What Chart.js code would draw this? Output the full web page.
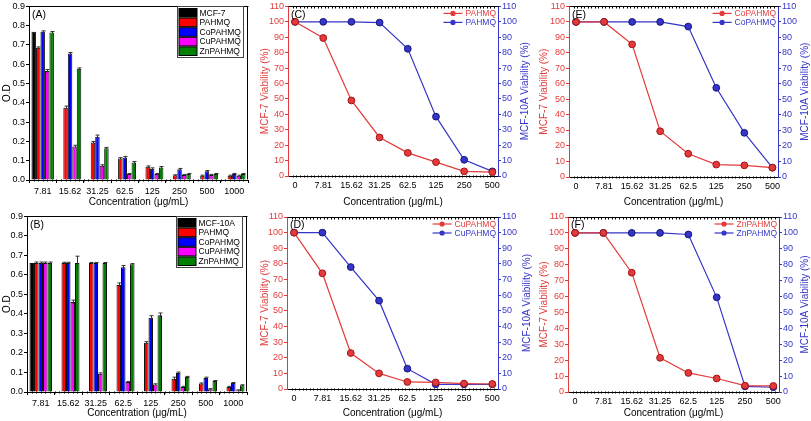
<!DOCTYPE html>
<html>
<head>
<meta charset="utf-8">
<script src="https://cdn.jsdelivr.net/npm/chart.js@4.4.0/dist/chart.umd.min.js"></script>
<style>
  body { margin: 0; background: #fff; width: 811px; height: 421px; position: relative; overflow: hidden; }
  .p { position: absolute; }
</style>
</head>
<body>
<div class="p" style="left:0;top:0;width:258px;height:210px"><canvas id="cA"></canvas></div>
<div class="p" style="left:258px;top:0;width:279px;height:210px"><canvas id="cC"></canvas></div>
<div class="p" style="left:537px;top:0;width:274px;height:210px"><canvas id="cE"></canvas></div>
<div class="p" style="left:0;top:210px;width:258px;height:211px"><canvas id="cB"></canvas></div>
<div class="p" style="left:258px;top:210px;width:279px;height:211px"><canvas id="cD"></canvas></div>
<div class="p" style="left:537px;top:210px;width:274px;height:211px"><canvas id="cF"></canvas></div>
<script>
// bar panels: O.D values per concentration
const barLabels = ['7.81', '15.62', '31.25', '62.5', '125', '250', '500', '1000'];

const odMCF7     = [0.768, null, null, null, null, null, null, null];
const odA_PAHMQ  = [0.685, 0.375, 0.195, 0.112, 0.069, 0.024, 0.022, 0.022];
const odA_Co     = [0.768, 0.656, 0.224, 0.117, 0.058, 0.056, 0.045, 0.031];
const odA_Cu     = [0.565, 0.174, 0.074, 0.031, 0.031, 0.026, 0.026, 0.022];
const odA_Zn     = [0.765, 0.577, 0.165, 0.091, 0.065, 0.031, 0.031, 0.031];
const errA_PAHMQ = [0.005, 0.008, 0.005, 0.004, 0.004, 0.003, 0.003, 0.003];
const errA_Co    = [0.005, 0.005, 0.009, 0.005, 0.005, 0.004, 0.004, 0.003];
const errA_Cu    = [0.008, 0.006, 0.005, 0.003, 0.003, 0.003, 0.003, 0.003];
const errA_Zn    = [0.005, 0.004, 0.004, 0.005, 0.005, 0.003, 0.003, 0.003];

const odMCF10A   = [0.661, null, null, null, null, null, null, null];
const odB_PAHMQ  = [0.661, 0.661, 0.661, 0.549, 0.253, 0.068, 0.043, 0.026];
const odB_Co     = [0.661, 0.661, 0.661, 0.640, 0.381, 0.097, 0.072, 0.046];
const odB_Cu     = [0.661, 0.461, 0.094, 0.051, 0.039, 0.026, 0.014, 0.009];
const odB_Zn     = [0.661, 0.661, 0.661, 0.655, 0.393, 0.077, 0.056, 0.034];
const errB_PAHMQ = [0.005, 0.004, 0.003, 0.010, 0.005, 0.008, 0.003, 0.003];
const errB_Co    = [0.005, 0.004, 0.003, 0.008, 0.010, 0.005, 0.004, 0.003];
const errB_Cu    = [0.005, 0.010, 0.004, 0.003, 0.003, 0.003, 0.003, 0.002];
const errB_Zn    = [0.005, 0.035, 0.003, 0.003, 0.012, 0.003, 0.003, 0.003];

// line panels: viability (%) per concentration
const concLabels = ['0', '7.81', '15.62', '31.25', '62.5', '125', '250', '500'];
const mcf7_PAHMQ    = [100, 89.5, 49, 25, 15, 9, 3, 2.5];
const mcf10a_PAHMQ  = [100, 100, 100, 99.5, 82.5, 38.5, 10.5, 3];
const mcf7_Co       = [100, 100, 85.5, 29.5, 15, 8, 7.5, 6];
const mcf10a_Co     = [100, 100, 100, 100, 97, 57.5, 28.5, 6];
const mcf7_Cu       = [100, 74, 23, 10, 4.5, 4.2, 3.5, 3.2];
const mcf10a_Cu     = [100, 100, 78, 56.5, 13, 3, 3, 3];
const mcf7_Zn       = [100, 100, 75, 21.5, 12, 8.5, 4, 3.8];
const mcf10a_Zn     = [100, 100, 100, 100, 99, 59.5, 3.5, 3];

const RED = '#e33b3b';
const BLUE = '#3535c8';
const FONT = "'Liberation Sans', Arial, sans-serif";
const TICK = 9;
const TITLE = 10;

Chart.defaults.font.family = FONT;
Chart.defaults.color = '#000';
Chart.defaults.animation = false;

function seg(ctx, x1, y1, x2, y2) {
  ctx.beginPath(); ctx.moveTo(x1, y1); ctx.lineTo(x2, y2); ctx.stroke();
}

// frame, panel letter, legend, error bars, right axis title
const deco = {
  id: 'deco',
  afterDatasetsDraw(chart, args, o) {
    if (o.kind !== 'bar') return;
    const ctx = chart.ctx, ys = chart.scales.y;
    ctx.save();
    ctx.strokeStyle = '#333'; ctx.lineWidth = 1;
    chart.data.datasets.forEach((ds, i) => {
      if (!ds.err) return;
      chart.getDatasetMeta(i).data.forEach((bar, j) => {
        const v = ds.data[j];
        if (v == null) return;
        const x = Math.round(bar.x) + 0.5;
        const yt = ys.getPixelForValue(v + ds.err[j]);
        const yb = ys.getPixelForValue(v - ds.err[j]);
        seg(ctx, x, yt, x, yb);
        seg(ctx, x - 2, yt, x + 2, yt);
      });
    });
    ctx.restore();
  },
  afterDraw(chart, args, o) {
    const ctx = chart.ctx, a = chart.chartArea;
    const L = Math.round(a.left) + 0.5, R = Math.round(a.right) - 0.5;
    const T = Math.round(a.top) + 0.5, B = Math.round(a.bottom) - 0.5;
    ctx.save();
    ctx.strokeStyle = '#000'; ctx.lineWidth = 1;
    seg(ctx, L, T, R + 1, T);
    if (o.kind === 'bar') seg(ctx, R, T, R, B);
    // minor ticks
    const xs = chart.scales.x;
    if (o.kind === 'line') {
      for (let v = -0.2; v <= 7.2; v += 0.125) {
        const x = Math.round(xs.getPixelForValue(v)) + 0.5;
        if (x <= L + 1 || x >= R - 1) continue;
        seg(ctx, x, T, x, T + 2);
        seg(ctx, x, B, x, B + 2);
      }
    } else {
      const step = (a.right - a.left) / 8 / 6;
      for (let x = a.left + step; x < a.right - 1; x += step) {
        const px = Math.round(x) + 0.5;
        seg(ctx, px, B, px, B + 2);
      }
    }
    // panel letter
    ctx.fillStyle = '#000';
    ctx.font = '10.5px ' + FONT;
    ctx.textBaseline = 'top';
    ctx.textAlign = 'left';
    ctx.fillText(o.letter, a.left + 3, a.top + 3);

    ctx.font = '8.5px ' + FONT;
    ctx.textBaseline = 'middle';
    const ds = chart.data.datasets;
    if (o.kind === 'bar') {
      let tw = 0;
      ds.forEach(d => { tw = Math.max(tw, ctx.measureText(d.label).width); });
      const rowH = 9.6, w = Math.ceil(tw + 24), h = Math.round(ds.length * rowH + 3);
      const bx = Math.round(a.right - 5 - w) + 0.5, by = T;
      ctx.strokeStyle = '#444';
      ctx.strokeRect(bx, by, w, h);
      ds.forEach((d, i) => {
        const y = by + 2 + i * rowH;
        ctx.fillStyle = d.backgroundColor;
        ctx.fillRect(bx + 1.5, y, 18, rowH - 1);
        ctx.strokeStyle = '#000';
        ctx.strokeRect(bx + 1.5, y, 18, rowH - 1);
        ctx.fillStyle = '#000';
        ctx.fillText(d.label, bx + 22, y + rowH / 2);
      });
    } else {
      ds.forEach((d, i) => {
        const y = a.top + 7 + i * 9;
        const tx = a.right - 2 - ctx.measureText(d.label).width;
        ctx.strokeStyle = d.borderColor; ctx.lineWidth = 1.2;
        seg(ctx, tx - 22, y, tx - 3, y);
        ctx.fillStyle = d.borderColor;
        ctx.beginPath(); ctx.arc(tx - 12.5, y, 2.6, 0, Math.PI * 2); ctx.fill();
        ctx.fillStyle = d.borderColor;
        ctx.fillText(d.label, tx, y + 0.5);
      });
      // right axis title, reading bottom to top
      ctx.save();
      ctx.translate(a.right + o.rtx, (a.top + a.bottom) / 2);
      ctx.rotate(-Math.PI / 2);
      ctx.textAlign = 'center';
      ctx.fillStyle = BLUE;
      ctx.font = TITLE + 'px ' + FONT;
      ctx.fillText('MCF-10A Viability (%)', 0, 0);
      ctx.restore();
    }
    ctx.restore();
  }
};

function makeBar(id, letter, sets, cfg) {
  new Chart(document.getElementById(id), {
    type: 'bar',
    data: {
      labels: barLabels,
      datasets: sets.map(s => ({
        label: s[0], data: s[1], err: s[3], backgroundColor: s[2],
        borderColor: '#111', borderWidth: 1, barPercentage: 1, categoryPercentage: 0.82
      }))
    },
    options: {
      responsive: true, maintainAspectRatio: false, animation: false,
      layout: { padding: { top: cfg.top, right: cfg.right, left: 0, bottom: 0 } },
      plugins: { legend: { display: false }, tooltip: { enabled: false }, deco: { kind: 'bar', letter } },
      scales: {
        x: {
          grid: { drawOnChartArea: false, tickLength: 3, color: '#000' },
          border: { color: '#000' },
          ticks: { font: { size: TICK }, padding: 3, maxRotation: 0, autoSkip: false },
          title: { display: true, text: 'Concentration (μg/mL)', font: { size: TITLE }, padding: { top: 0, bottom: 2 } },
          afterFit(s) { s.height = cfg.xh; }
        },
        y: {
          min: 0, max: 0.9,
          ticks: { stepSize: 0.1, font: { size: TICK }, padding: 1, autoSkip: false, callback: v => v.toFixed(1) },
          grid: { drawOnChartArea: false, tickLength: 3, color: '#000' },
          border: { color: '#000' },
          title: { display: true, text: 'O.D', font: { size: TITLE }, padding: { top: 1, bottom: 0 } },
          afterFit(s) { s.width = cfg.yw; }
        }
      }
    },
    plugins: [deco]
  });
}

function makeLine(id, letter, name, red, blue, cfg) {
  const pts = arr => arr.map((v, i) => ({ x: i, y: v }));
  const ds = (data, col, dark, axis) => ({
    label: name, data: pts(data), yAxisID: axis, borderColor: col, backgroundColor: col,
    pointBackgroundColor: col, pointBorderColor: dark, pointBorderWidth: 1, pointRadius: 3.4,
    borderWidth: 1.2, tension: 0
  });
  const yax = (col, pos, w, title) => ({
    position: pos, min: 0, max: 110,
    ticks: { stepSize: 10, color: col, font: { size: TICK }, padding: 1, autoSkip: false },
    grid: { drawOnChartArea: false, tickLength: 3, color: col },
    border: { color: col },
    title: { display: !!title, text: title, color: col, font: { size: TITLE }, padding: { top: 1, bottom: 0 } },
    afterFit(s) { s.width = w; }
  });
  new Chart(document.getElementById(id), {
    type: 'line',
    data: { datasets: [ds(red, RED, '#a31515', 'y'), ds(blue, BLUE, '#15157a', 'y1')] },
    options: {
      responsive: true, maintainAspectRatio: false, animation: false,
      layout: { padding: { top: cfg.top, right: 0, left: 0, bottom: 0 } },
      plugins: { legend: { display: false }, tooltip: { enabled: false }, deco: { kind: 'line', letter, rtx: cfg.rtx } },
      scales: {
        x: {
          type: 'linear', min: -0.25, max: 7.2,
          afterBuildTicks(s) { s.ticks = concLabels.map((l, i) => ({ value: i })); },
          ticks: { callback: v => concLabels[v], font: { size: TICK }, padding: cfg.xpad, maxRotation: 0, autoSkip: false },
          grid: { drawOnChartArea: false, drawTicks: false },
          border: { color: '#000' },
          title: { display: true, text: 'Concentration (μg/mL)', font: { size: TITLE }, padding: { top: 0, bottom: 2 } },
          afterFit(s) { s.height = cfg.xh; }
        },
        y: yax(RED, 'left', cfg.yw, 'MCF-7 Viability (%)'),
        y1: yax(BLUE, 'right', cfg.ry, '')
      }
    },
    plugins: [deco]
  });
}

makeBar('cA', '(A)', [
  ['MCF-7', odMCF7, '#000000', null],
  ['PAHMQ', odA_PAHMQ, '#ff0000', errA_PAHMQ],
  ['CoPAHMQ', odA_Co, '#0000ff', errA_Co],
  ['CuPAHMQ', odA_Cu, '#ff00ff', errA_Cu],
  ['ZnPAHMQ', odA_Zn, '#008000', errA_Zn]
], { top: 5, right: 10, yw: 29, xh: 30 });

makeBar('cB', '(B)', [
  ['MCF-10A', odMCF10A, '#000000', null],
  ['PAHMQ', odB_PAHMQ, '#ff0000', errB_PAHMQ],
  ['CoPAHMQ', odB_Co, '#0000ff', errB_Co],
  ['CuPAHMQ', odB_Cu, '#ff00ff', errB_Cu],
  ['ZnPAHMQ', odB_Zn, '#008000', errB_Zn]
], { top: 6, right: 11, yw: 27, xh: 29 });

makeLine('cC', '(C)', 'PAHMQ', mcf7_PAHMQ, mcf10a_PAHMQ, { top: 5, yw: 30, ry: 39, xh: 34, xpad: 4, rtx: 27 });
makeLine('cE', '(E)', 'CoPAHMQ', mcf7_Co, mcf10a_Co, { top: 5, yw: 32, ry: 33, xh: 33, xpad: 4, rtx: 27 });
makeLine('cD', '(D)', 'CuPAHMQ', mcf7_Cu, mcf10a_Cu, { top: 7, yw: 29, ry: 39, xh: 32, xpad: 4, rtx: 29 });
makeLine('cF', '(F)', 'ZnPAHMQ', mcf7_Zn, mcf10a_Zn, { top: 7, yw: 31, ry: 32, xh: 29, xpad: 4, rtx: 26 });
</script>
</body>
</html>
